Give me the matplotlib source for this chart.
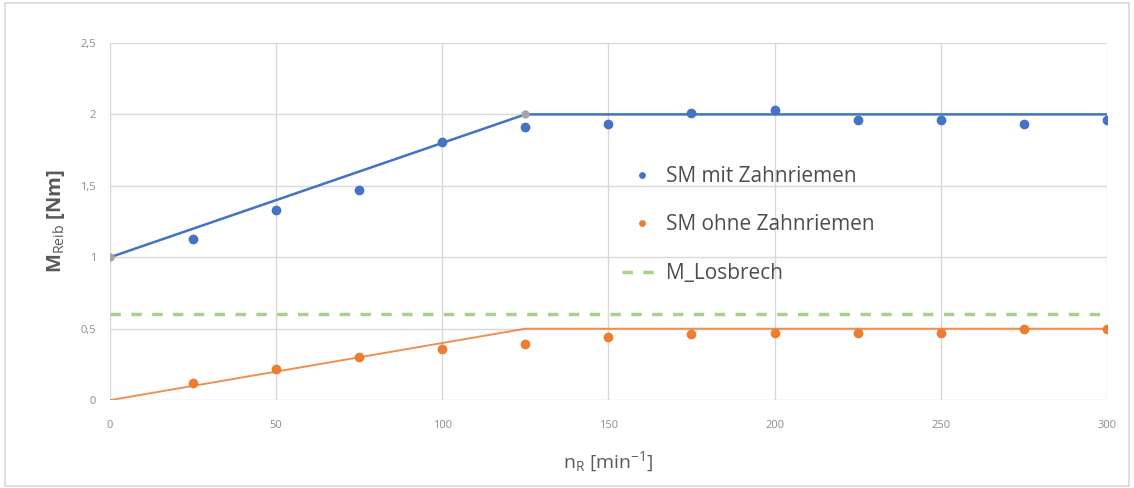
import numpy as np
import matplotlib
matplotlib.use('Agg')
import matplotlib.pyplot as plt
from matplotlib.patches import Rectangle

plt.rcParams['font.family'] = ['Open Sans', 'DejaVu Sans']
plt.rcParams['mathtext.fontset'] = 'custom'
plt.rcParams['mathtext.rm'] = 'Open Sans'
plt.rcParams['mathtext.it'] = 'Open Sans'

# measured friction torque
n_meas = [25, 50, 75, 100, 125, 150, 175, 200, 225, 250, 275, 300]
m_mit = [1.13, 1.33, 1.47, 1.81, 1.91, 1.93, 2.01, 2.03, 1.96, 1.96, 1.93, 1.96]
m_ohne = [0.12, 0.22, 0.30, 0.36, 0.39, 0.44, 0.46, 0.47, 0.47, 0.47, 0.50, 0.50]

# model curves (break points)
n_model = [0, 125, 300]
m_model_mit = [1.0, 2.0, 2.0]
m_model_ohne = [0.0, 0.5, 0.5]

# breakaway torque
n_los = [0, 300]
m_los = [0.6, 0.6]

blue = '#4472C4'
orange = '#ED7D31'
green = '#A9D18E'
grid = '#D9D9D9'
txt = '#595959'

fig = plt.figure(figsize=(11.34, 4.88), dpi=100)
ax = fig.add_axes([0.097, 0.180, 0.879, 0.732])

fig.patches.append(Rectangle((0.004, 0.004), 0.992, 0.990, transform=fig.transFigure,
                             fill=False, edgecolor=grid, linewidth=1.2))

ax.plot(n_model, m_model_mit, color=blue, linewidth=1.8, zorder=3)
ax.plot(n_model[:2], m_model_mit[:2], linestyle='none', marker='o', markersize=5,
        color='#A5A5A5', zorder=4)
ax.plot(n_model, m_model_ohne, color=orange, linewidth=1.4, alpha=0.85, zorder=3)
ax.plot(n_meas, m_mit, linestyle='none', marker='o', markersize=6, color=blue,
        label='SM mit Zahnriemen', zorder=5)
ax.plot(n_meas, m_ohne, linestyle='none', marker='o', markersize=6, color=orange,
        label='SM ohne Zahnriemen', zorder=5)
ax.plot(n_los, m_los, color=green, linewidth=2.5, dashes=(3, 3),
        label='M_Losbrech', zorder=3)

ax.set_xlim(0, 300)
ax.set_ylim(0, 2.5)
ax.set_xticks(np.arange(0, 301, 50))
ax.set_yticks([0, 0.5, 1, 1.5, 2, 2.5])
ax.set_yticklabels(['0', '0,5', '1', '1,5', '2', '2,5'])
ax.grid(True, color=grid, linewidth=1)
ax.set_axisbelow(True)
for s in ax.spines.values():
    s.set_visible(False)
ax.tick_params(length=0, labelsize=8, labelcolor='#8C8C8C')
ax.tick_params(axis='x', pad=14)
ax.tick_params(axis='y', pad=10)

ax.set_xlabel(r'n$_\mathrm{R}$ [min$^{-1}$]', fontsize=14, color=txt, labelpad=14)
ax.set_ylabel(r'M$_\mathrm{Reib}$ [Nm]', fontsize=14.5, color=txt, fontweight='bold',
              labelpad=10)

leg = ax.legend(loc='upper left', bbox_to_anchor=(0.5135, 0.656), frameon=False,
                fontsize=15, labelcolor='#4D4D4D', markerscale=0.65, handlelength=1.9,
                labelspacing=1.32, handletextpad=0.2, borderpad=0, borderaxespad=0)

fig.savefig('out.png', dpi=100)
